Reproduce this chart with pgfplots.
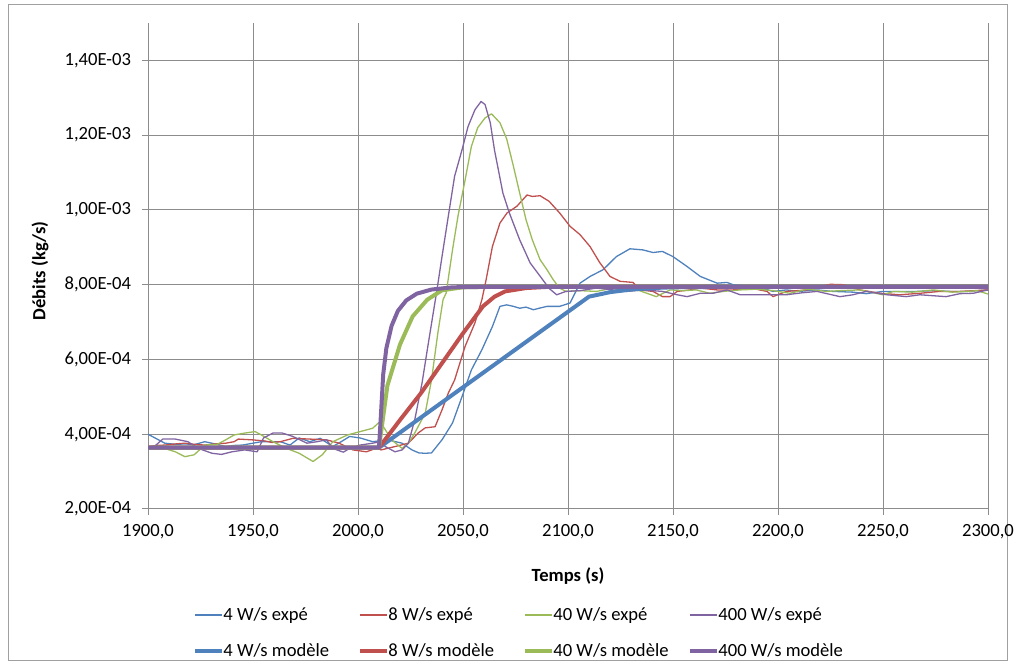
\documentclass[border=0pt]{standalone}
\usepackage{fontspec}
\setmainfont{Carlito}
\usepackage{pgfplots}
\pgfplotsset{compat=1.18}
\definecolor{cB}{HTML}{4F81BD}
\definecolor{cR}{HTML}{C0504D}
\definecolor{cG}{HTML}{9BBB59}
\definecolor{cP}{HTML}{8064A2}
\definecolor{gridc}{HTML}{8C8C8C}
\definecolor{borderc}{HTML}{A0A0A0}
\newcommand{\fs}{\fontsize{9.3}{11}\selectfont}
\begin{document}
\begin{tikzpicture}
\useasboundingbox (0,0) rectangle (508.5pt,333.5pt);
\draw[borderc,line width=0.5pt] (4pt,3pt) rectangle (503.5pt,331pt);
\begin{axis}[
  at={(74pt,79pt)}, anchor=south west,
  scale only axis, width=420pt, height=243pt,
  xmin=1900, xmax=2300, ymin=2e-4, ymax=1.5e-3,
  axis x line*=bottom, axis y line*=left,
  axis line style={draw=gridc, line width=0.5pt, -},
  grid=major, major grid style={draw=gridc, line width=0.5pt},
  tick align=outside, major tick length=3pt,
  tick style={draw=gridc, line width=0.5pt},
  scaled ticks=false,
  xtick={1900,1950,2000,2050,2100,2150,2200,2250,2300},
  xticklabels={{1900,0},{1950,0},{2000,0},{2050,0},{2100,0},{2150,0},{2200,0},{2250,0},{2300,0}},
  ytick={2e-4,4e-4,6e-4,8e-4,1e-3,1.2e-3,1.4e-3},
  yticklabels={{2,00E-04},{4,00E-04},{6,00E-04},{8,00E-04},{1,00E-03},{1,20E-03},{1,40E-03}},
  ticklabel style={font=\fs},
  yticklabel style={xshift=-2pt},
  xticklabel style={yshift=-1pt},
  xlabel={\bfseries Temps (s)}, ylabel={\bfseries Débits (kg/s)},
  label style={font=\fs},
  xlabel style={at={(axis description cs:0.5,-0.138)}, anchor=center},
  ylabel style={at={(axis description cs:-0.1286,0.49)}, anchor=center},
  every axis plot/.append style={line join=round},
  clip=true,
]
% 4 W/s expe
\addplot[cB, line width=0.65pt] coordinates {
(1900,4.00e-4)(1904,3.88e-4)(1908,3.76e-4)(1913,3.73e-4)(1918,3.74e-4)(1922,3.72e-4)(1927,3.80e-4)(1932,3.74e-4)(1937,3.67e-4)(1941,3.70e-4)(1945,3.71e-4)(1950,3.76e-4)(1954,3.80e-4)(1959,3.80e-4)(1963,3.80e-4)(1967.6,3.71e-4)(1972,3.90e-4)(1977,3.80e-4)(1982,3.89e-4)(1988,3.67e-4)(1992,3.80e-4)(1996,3.94e-4)(2001,3.90e-4)(2007,3.80e-4)(2014,3.85e-4)(2021,3.76e-4)(2025.7,3.58e-4)(2029,3.50e-4)(2032,3.49e-4)(2035,3.50e-4)(2040,3.85e-4)(2045,4.30e-4)(2049.5,5.00e-4)(2054,5.72e-4)(2059,6.26e-4)(2064,6.88e-4)(2067.6,7.42e-4)(2070.8,7.46e-4)(2074,7.42e-4)(2077,7.37e-4)(2080,7.40e-4)(2083.5,7.33e-4)(2087,7.38e-4)(2090,7.42e-4)(2096,7.42e-4)(2101,7.51e-4)(2105.7,8.04e-4)(2110.5,8.22e-4)(2116.7,8.40e-4)(2123,8.75e-4)(2129.5,8.96e-4)(2135.7,8.93e-4)(2140.5,8.86e-4)(2145,8.89e-4)(2150,8.75e-4)(2156.6,8.49e-4)(2163,8.22e-4)(2171,8.04e-4)(2175.7,8.06e-4)(2178.6,8.00e-4)(2184,7.97e-4)(2190,7.95e-4)(2197.6,7.82e-4)(2204,7.86e-4)(2210,7.82e-4)(2218.6,7.86e-4)(2226,7.82e-4)(2235.7,7.80e-4)(2242,7.76e-4)(2250,7.82e-4)(2258,7.82e-4)(2266,7.82e-4)(2274,7.84e-4)(2282,7.82e-4)(2290,7.82e-4)(2300,7.86e-4)
};
% 8 W/s expe
\addplot[cR, line width=0.65pt] coordinates {
(1900,3.67e-4)(1904,3.70e-4)(1908,3.71e-4)(1913,3.74e-4)(1917.6,3.76e-4)(1922,3.73e-4)(1927,3.71e-4)(1932,3.74e-4)(1937,3.76e-4)(1941,3.80e-4)(1943,3.87e-4)(1949.5,3.85e-4)(1955.7,3.82e-4)(1959,3.78e-4)(1963,3.80e-4)(1969,3.89e-4)(1973,3.88e-4)(1977,3.87e-4)(1981,3.86e-4)(1985,3.85e-4)(1991,3.76e-4)(1997.6,3.58e-4)(2004,3.53e-4)(2009,3.63e-4)(2011,3.58e-4)(2017.6,3.67e-4)(2024,3.76e-4)(2028.6,4.03e-4)(2032,4.17e-4)(2036.7,4.20e-4)(2040,4.65e-4)(2043,5.10e-4)(2046,5.45e-4)(2051,6.35e-4)(2055.7,6.98e-4)(2059,7.60e-4)(2061,8.13e-4)(2064,9.02e-4)(2067.6,9.65e-4)(2071,9.92e-4)(2075.7,10.10e-4)(2080.5,10.40e-4)(2083,10.36e-4)(2086.7,10.38e-4)(2091,10.23e-4)(2096,9.92e-4)(2101,9.56e-4)(2105.7,9.34e-4)(2110.5,9.02e-4)(2115,8.60e-4)(2120,8.22e-4)(2124.8,8.09e-4)(2131,8.06e-4)(2134,7.86e-4)(2140.5,7.82e-4)(2145,7.68e-4)(2148.6,7.68e-4)(2152,7.82e-4)(2158,7.86e-4)(2163,7.91e-4)(2171,7.86e-4)(2178.6,7.86e-4)(2186.7,7.91e-4)(2194.8,7.82e-4)(2197.6,7.68e-4)(2204,7.82e-4)(2213.8,7.86e-4)(2220,7.95e-4)(2225,8.01e-4)(2231,8.00e-4)(2239,7.86e-4)(2248.6,7.77e-4)(2258,7.73e-4)(2267.6,7.77e-4)(2277,7.82e-4)(2286.7,7.82e-4)(2300,7.86e-4)
};
% 40 W/s expe
\addplot[cG, line width=0.65pt] coordinates {
(1900,3.62e-4)(1905,3.67e-4)(1909,3.60e-4)(1913,3.53e-4)(1917.6,3.40e-4)(1922,3.45e-4)(1927,3.71e-4)(1933,3.73e-4)(1937,3.85e-4)(1941,3.98e-4)(1946,4.03e-4)(1951,4.07e-4)(1954,3.98e-4)(1959.5,3.80e-4)(1966,3.62e-4)(1972,3.49e-4)(1978.6,3.27e-4)(1983,3.45e-4)(1988,3.80e-4)(1995,3.98e-4)(2001,4.07e-4)(2007,4.16e-4)(2010.5,4.34e-4)(2013,4.12e-4)(2016,3.85e-4)(2021,3.62e-4)(2024,3.76e-4)(2027,4.03e-4)(2032,4.56e-4)(2035,5.45e-4)(2038,6.70e-4)(2040.5,7.60e-4)(2042,7.78e-4)(2045,8.93e-4)(2047.6,9.83e-4)(2051,10.80e-4)(2054,11.70e-4)(2057,12.20e-4)(2060.5,12.46e-4)(2063.6,12.57e-4)(2067.6,12.33e-4)(2070.8,11.90e-4)(2074,11.17e-4)(2077,10.45e-4)(2080,9.74e-4)(2083,9.20e-4)(2086.7,8.67e-4)(2090,8.40e-4)(2093,8.13e-4)(2096,7.91e-4)(2099,7.82e-4)(2105.7,7.84e-4)(2113.6,7.82e-4)(2121.6,7.91e-4)(2126,7.82e-4)(2133,7.86e-4)(2137.6,7.77e-4)(2142,7.68e-4)(2148.6,7.86e-4)(2155,7.84e-4)(2161,7.86e-4)(2167.6,7.77e-4)(2174,7.82e-4)(2182,7.86e-4)(2190,7.88e-4)(2197.6,7.84e-4)(2205.7,7.77e-4)(2213.8,7.88e-4)(2223,7.82e-4)(2229.5,7.84e-4)(2239,7.86e-4)(2250,7.73e-4)(2255,7.82e-4)(2264,7.80e-4)(2274,7.86e-4)(2283,7.80e-4)(2290,7.82e-4)(2294.8,7.84e-4)(2300,7.75e-4)
};
% 400 W/s expe
\addplot[cP, line width=0.65pt] coordinates {
(1900,3.62e-4)(1903,3.67e-4)(1907,3.87e-4)(1913,3.87e-4)(1919,3.80e-4)(1924,3.62e-4)(1930.5,3.49e-4)(1935,3.46e-4)(1940,3.53e-4)(1946,3.58e-4)(1952,3.53e-4)(1955,3.90e-4)(1959.5,4.03e-4)(1964,4.03e-4)(1969,3.94e-4)(1975.7,3.76e-4)(1980.5,3.80e-4)(1985,3.85e-4)(1988,3.62e-4)(1993,3.52e-4)(1996,3.62e-4)(2001,3.71e-4)(2007,3.76e-4)(2010.5,3.80e-4)(2013,3.67e-4)(2017.6,3.53e-4)(2021,3.58e-4)(2024,3.76e-4)(2027,4.38e-4)(2030.5,5.37e-4)(2033,6.26e-4)(2035.7,7.20e-4)(2037.6,7.86e-4)(2040,8.75e-4)(2043,9.83e-4)(2046,10.90e-4)(2049.5,11.60e-4)(2052.4,12.23e-4)(2055.7,12.68e-4)(2058.6,12.90e-4)(2060.5,12.82e-4)(2063,12.33e-4)(2065,11.60e-4)(2069,10.45e-4)(2072,9.93e-4)(2077,9.20e-4)(2082,8.58e-4)(2088,8.13e-4)(2091,7.90e-4)(2094.6,7.73e-4)(2099,7.82e-4)(2105.7,7.84e-4)(2113.6,7.91e-4)(2121.5,7.86e-4)(2128,7.82e-4)(2135.7,7.86e-4)(2145,7.82e-4)(2152,7.73e-4)(2156.7,7.68e-4)(2163,7.77e-4)(2169,7.77e-4)(2175.7,7.86e-4)(2182,7.73e-4)(2188,7.73e-4)(2197.6,7.73e-4)(2204,7.73e-4)(2211,7.78e-4)(2218.6,7.82e-4)(2229.5,7.68e-4)(2235.7,7.73e-4)(2242,7.82e-4)(2251.9,7.73e-4)(2261,7.68e-4)(2267.6,7.73e-4)(2280,7.68e-4)(2286.7,7.76e-4)(2293,7.77e-4)(2300,7.86e-4)
};
% models
\addplot[cB, line width=2pt] coordinates {
(1900,3.64e-4)(2010,3.64e-4)(2110,7.68e-4)(2120,7.80e-4)(2130,7.87e-4)(2140,7.91e-4)(2150,7.93e-4)(2170,7.94e-4)(2300,7.94e-4)
};
\addplot[cR, line width=2pt] coordinates {
(1900,3.64e-4)(2010,3.64e-4)(2020,4.38e-4)(2030,5.10e-4)(2040,5.90e-4)(2050,6.70e-4)(2059.5,7.42e-4)(2065,7.68e-4)(2070,7.82e-4)(2080,7.91e-4)(2090,7.94e-4)(2300,7.94e-4)
};
\addplot[cG, line width=2pt] coordinates {
(1900,3.64e-4)(2010,3.64e-4)(2014,5.30e-4)(2020,6.40e-4)(2026,7.15e-4)(2033,7.60e-4)(2040,7.85e-4)(2050,7.93e-4)(2060,7.94e-4)(2300,7.94e-4)
};
\addplot[cP, line width=2pt] coordinates {
(1900,3.64e-4)(2010,3.64e-4)(2011,4.60e-4)(2012,5.60e-4)(2013.5,6.30e-4)(2016,6.90e-4)(2019,7.30e-4)(2023,7.58e-4)(2028,7.76e-4)(2035,7.87e-4)(2045,7.93e-4)(2060,7.94e-4)(2300,7.94e-4)
};
\end{axis}
% legend
\foreach \c/\t [count=\i from 0] in {cB/4, cR/8, cG/40, cP/400}{
  \draw[\c, line width=0.65pt] ({97.5pt+\i*82.5pt},26pt) -- ++(13.5pt,0);
  \node[font=\fs, anchor=base west, inner sep=0pt] at ({111.5pt+\i*82.5pt},23pt) {\t\ W/s expé};
  \draw[\c, line width=2pt] ({97.5pt+\i*82.5pt},8pt) -- ++(13.5pt,0);
  \node[font=\fs, anchor=base west, inner sep=0pt] at ({111.5pt+\i*82.5pt},5pt) {\t\ W/s modèle};
}
\end{tikzpicture}
\end{document}
